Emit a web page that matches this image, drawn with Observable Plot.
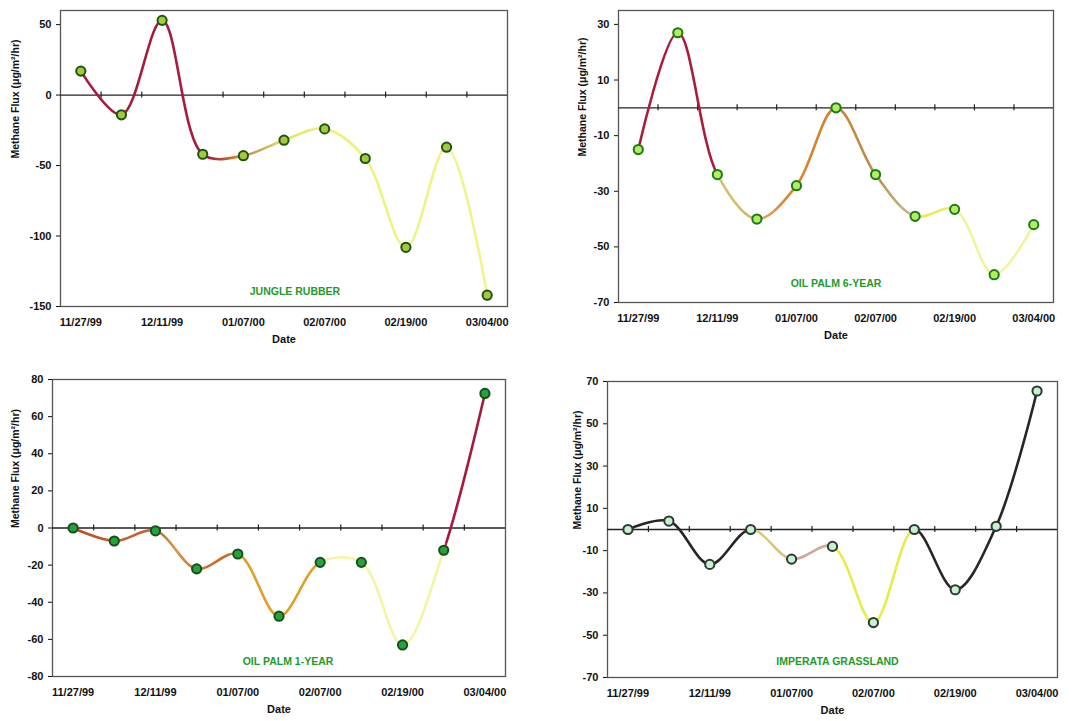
<!DOCTYPE html>
<html>
<head>
<meta charset="utf-8">
<script src="https://cdn.jsdelivr.net/npm/d3@7"></script>
<script src="https://cdn.jsdelivr.net/npm/@observablehq/plot@0.6"></script>
<style>
  body { margin: 0; background: #fff; }
  #wrap { position: relative; width: 1091px; height: 721px; background: #fff; }
  .pnl { position: absolute; }
</style>
</head>
<body>
<div id="wrap"></div>
<script>
// ---- data ----
const dateTicks = ["11/27/99", "12/11/99", "01/07/00", "02/07/00", "02/19/00", "03/04/00"];
const sampleIndex = [0, 1, 2, 3, 4, 5, 6, 7, 8, 9, 10];
const jungleRubber = [17, -14, 53, -42, -43, -32, -24, -45, -108, -37, -142];
const oilPalm6 = [-15, 27, -24, -40, -28, 0, -24, -39, -36.5, -60, -42];
const oilPalm1 = [0, -7, -1.5, -22, -14, -47.5, -18.5, -18.5, -63, -12, 72.5];
const imperata = [0, 4, -16.5, 0, -14, -8, -44, 0, -28.5, 1.5, 65.5];
const yTicks1 = [-150, -100, -50, 0, 50];
const yTicks2 = [-70, -50, -30, -10, 10, 30];
const yTicks3 = [-80, -60, -40, -20, 0, 20, 40, 60, 80];
const yTicks4 = [-70, -50, -30, -10, 10, 30, 50, 70];
const yLabel = "Methane Flux (μg/m²/hr)";
const xLabel = "Date";

const panels = [
  {
    id: "g1", values: jungleRubber, label: "JUNGLE RUBBER", yDomain: [-150, 60], yTicks: yTicks1,
    left: 0, top: 0, width: 545, height: 360, margins: [10, 38, 54, 60],
    labelDx: 11, labelDy: -12, yLabelOff: 45,
    stops: [[0, "#a51a3d"], [3.2, "#a81c3c"], [3.8, "#d0802c"], [4.4, "#c8a868"], [5, "#e4e45c"], [6, "#eef07a"], [10, "#f2f48c"]],
    dot: { fill: "#a6c83a", stroke: "#1c5414" }
  },
  {
    id: "g2", values: oilPalm6, label: "OIL PALM 6-YEAR", yDomain: [-70, 35], yTicks: yTicks2,
    left: 545, top: 0, width: 546, height: 360, margins: [10, 38, 58, 73],
    labelDx: 0, labelDy: -16, yLabelOff: 36,
    stops: [[0, "#a81c3c"], [2, "#a81c3c"], [2.05, "#d2c472"], [3, "#d4b460"], [3.6, "#d88c36"], [5, "#d08030"], [6, "#b8904c"], [7, "#c8c094"], [7.05, "#e6ea4c"], [8, "#eaee60"], [8.05, "#f2f49c"], [10, "#f2f49c"]],
    dot: { fill: "#b4ee5c", stroke: "#1a7a1a" }
  },
  {
    id: "g3", values: oilPalm1, label: "OIL PALM 1-YEAR", yDomain: [-80, 80], yTicks: yTicks3,
    left: 0, top: 360, width: 545, height: 361, margins: [19, 40, 45, 52],
    labelDx: 9, labelDy: -12, yLabelOff: 37,
    stops: [[0, "#bc4a2c"], [2, "#c46a30"], [2.5, "#d89a40"], [3, "#c8702c"], [4, "#c8702c"], [4.05, "#e0a028"], [6, "#e0a028"], [6.05, "#f4f4a2"], [9, "#f4f4a2"], [9.05, "#a8183c"], [10, "#a8183c"]],
    dot: { fill: "#28a03c", stroke: "#14501c" }
  },
  {
    id: "g4", values: imperata, label: "IMPERATA GRASSLAND", yDomain: [-70, 70], yTicks: yTicks4,
    left: 545, top: 360, width: 546, height: 361, margins: [21, 34, 44, 62],
    labelDx: 5, labelDy: -13, yLabelOff: 30,
    stops: [[0, "#262626"], [3, "#262626"], [3.05, "#d8d070"], [4, "#d8c080"], [4.2, "#d0a898"], [5, "#d0a898"], [5.05, "#e8ec48"], [7, "#e8ec48"], [7.05, "#262626"], [10, "#262626"]],
    dot: { fill: "#c8f0d2", stroke: "#2c3a32" }
  }
];

const wrap = document.getElementById("wrap");

for (const p of panels) {
  const data = sampleIndex.map((i) => ({ i, v: p.values[i] }));
  const [mt, mr, mb, ml] = p.margins;
  const innerH = p.height - mt - mb;
  const k = (p.yDomain[1] - p.yDomain[0]) * 3 / innerH;
  const boundaries = d3.range(0.5, sampleIndex.length - 1, 1);
  const plot = Plot.plot({
    width: p.width,
    height: p.height,
    marginTop: mt, marginRight: mr, marginBottom: mb, marginLeft: ml,
    style: { fontFamily: "'Liberation Sans', Arial, sans-serif", fontSize: "11px", fontWeight: "bold", background: "white", color: "#111", overflow: "visible" },
    x: {
      domain: [-0.5, sampleIndex.length - 0.5],
      ticks: dateTicks.map((_, j) => j * 2),
      tickFormat: (d) => dateTicks[d / 2],
      tickSize: 0, tickPadding: 12, label: null
    },
    y: { domain: p.yDomain, ticks: p.yTicks, tickFormat: (d) => String(d), tickSize: 4, tickPadding: 5, label: null },
    marks: [
      Plot.frame({ stroke: "#555", strokeWidth: 1.3 }),
      Plot.ruleY([0], { stroke: "#222", strokeWidth: 1.3 }),
      Plot.ruleX(boundaries, { x: (d) => d, y1: -k, y2: k, stroke: "#222", strokeWidth: 1.2 }),
      Plot.line(data, { x: "i", y: "v", curve: "catmull-rom", stroke: "#000", strokeWidth: 2.6 }),
      Plot.dot(data, { x: "i", y: "v", r: 4.6, fill: p.dot.fill, stroke: p.dot.stroke, strokeWidth: 2 }),
      Plot.text([p.label], { text: (d) => d, frameAnchor: "bottom", dx: p.labelDx, dy: p.labelDy, fill: "#1f9a2a", fontWeight: "bold", fontSize: 10.5 }),
      Plot.text([yLabel], { text: (d) => d, frameAnchor: "left", rotate: -90, dx: -p.yLabelOff, fill: "#111", fontWeight: "bold", fontSize: 10.5 }),
      Plot.text([xLabel], { text: (d) => d, frameAnchor: "bottom", dy: 36, fill: "#111", fontWeight: "bold", fontSize: 11 })
    ]
  });

  // horizontal gradient for the line, stops at sample positions
  const sx = plot.scale("x");
  const ns = "http://www.w3.org/2000/svg";
  const defs = document.createElementNS(ns, "defs");
  const grad = document.createElementNS(ns, "linearGradient");
  grad.setAttribute("id", p.id);
  grad.setAttribute("gradientUnits", "userSpaceOnUse");
  const x0 = sx.apply(0), x1 = sx.apply(sampleIndex.length - 1);
  grad.setAttribute("x1", x0);
  grad.setAttribute("x2", x1);
  grad.setAttribute("y1", 0);
  grad.setAttribute("y2", 0);
  for (const [o, c] of p.stops) {
    const s = document.createElementNS(ns, "stop");
    s.setAttribute("offset", o / (sampleIndex.length - 1));
    s.setAttribute("stop-color", c);
    grad.appendChild(s);
  }
  defs.appendChild(grad);
  plot.insertBefore(defs, plot.firstChild);
  d3.select(plot).selectAll("g[aria-label='line']").attr("stroke", `url(#${p.id})`)
    .selectAll("path").attr("stroke", `url(#${p.id})`);

  const div = document.createElement("div");
  div.className = "pnl";
  div.style.left = p.left + "px";
  div.style.top = p.top + "px";
  div.appendChild(plot);
  wrap.appendChild(div);
}
</script>
</body>
</html>
